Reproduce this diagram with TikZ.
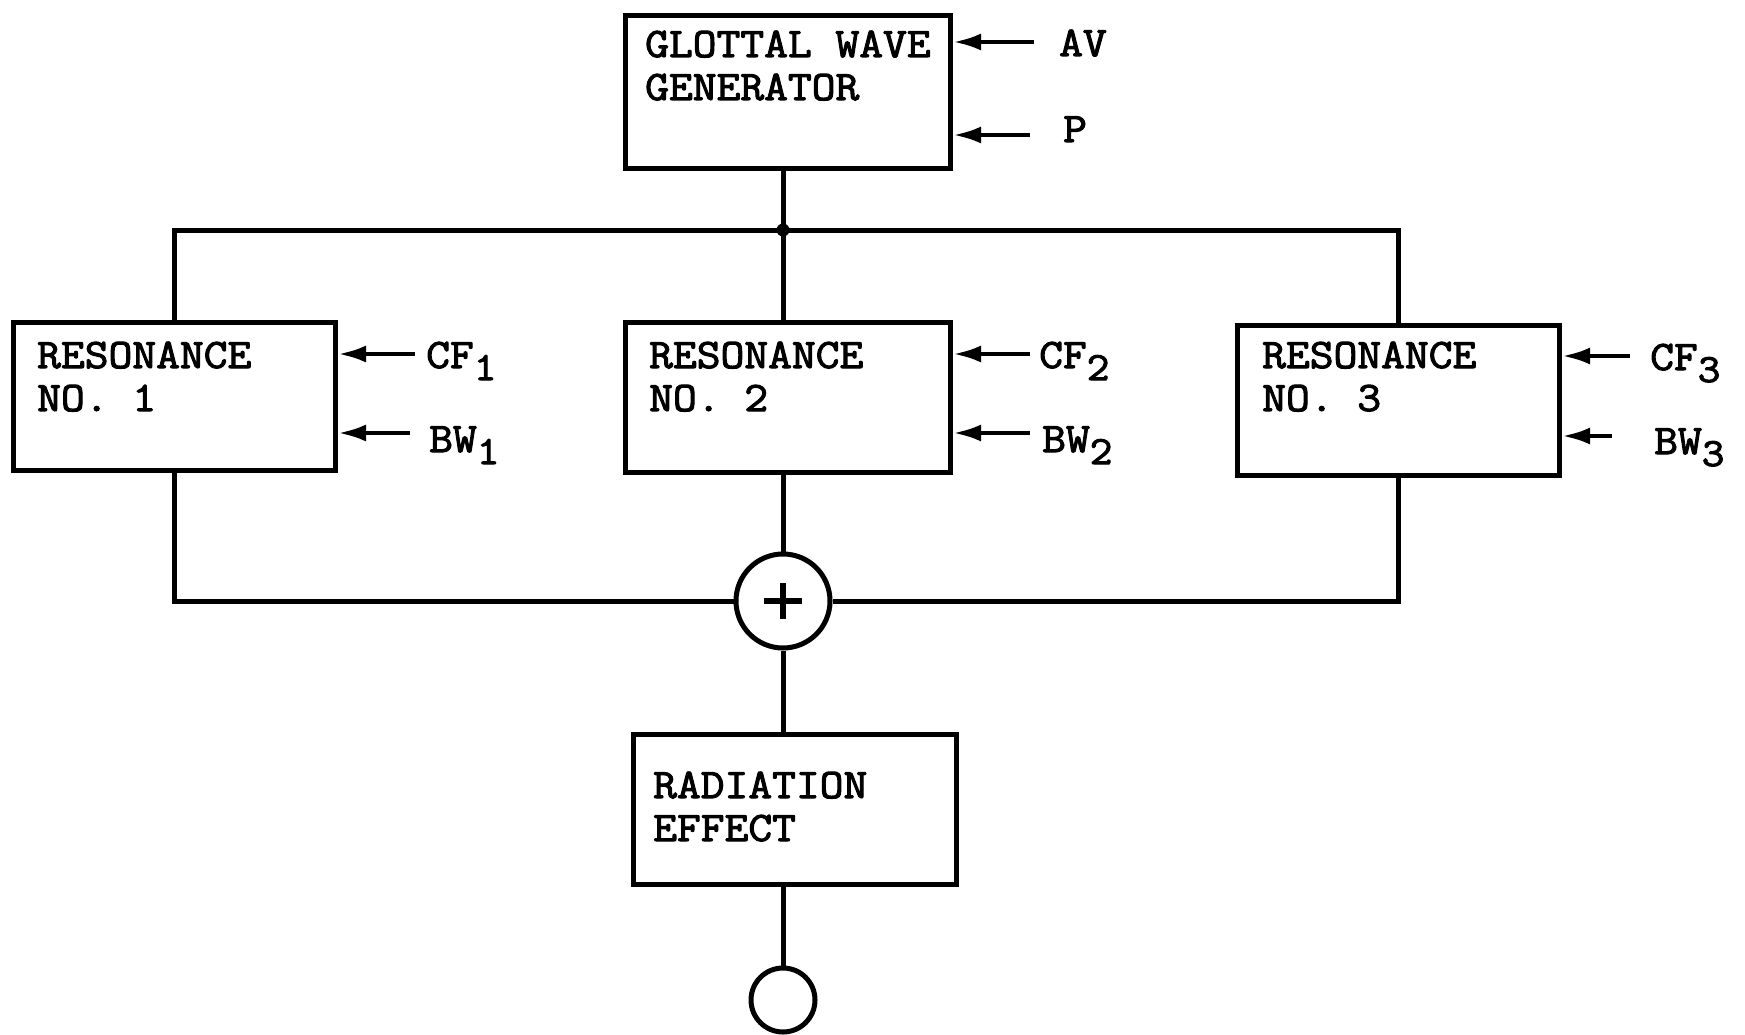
\documentclass[tikz,border=0pt]{standalone}
\usepackage{fontspec}
\newfontfamily\typew{Latin Modern Mono}[FakeStretch=1.1,FakeBold=2.5]
\usetikzlibrary{arrows.meta}
\newcommand\lowsub[1]{\raisebox{-12pt}{\fontsize{40}{40}\selectfont #1}}
\begin{document}
\begin{tikzpicture}[x=1pt,y=-1pt,
  blk/.style={draw, line width=5pt, inner sep=0pt, anchor=north west},
  lbl/.style={font=\typew\fontsize{42}{46}\selectfont, inner sep=0pt, anchor=base west},
  wire/.style={line width=5pt},
  inarrow/.style={line width=4.5pt, -{Latex[length=28pt,width=17pt]}},
  sumc/.style={draw, circle, line width=5pt, inner sep=0pt}]
\useasboundingbox (0,0) rectangle (1745,1035);
% blocks
\node[blk, minimum width=325pt, minimum height=153pt] (glot) at (623,13) {};
\node[blk, minimum width=322pt, minimum height=148pt] (res1) at (11,320) {};
\node[blk, minimum width=325pt, minimum height=150pt] (res2) at (623,320) {};
\node[blk, minimum width=322pt, minimum height=150pt] (res3) at (1235,323) {};
\node[blk, minimum width=323pt, minimum height=150pt] (rad) at (631,732) {};
\node[sumc, minimum size=94pt] (sum) at (783,601) {};
\node[sumc, minimum size=64pt] (out) at (783,1000) {};
% block texts
\node[lbl] (g1) at (645,57) {GLOTTAL WAVE};
\node[lbl] (g2) at (645,100) {GENERATOR};
\node[lbl] (r1a) at (37,368) {RESONANCE};
\node[lbl] (r1b) at (37,411) {NO. 1};
\node[lbl] (r2a) at (649,368) {RESONANCE};
\node[lbl] (r2b) at (649,411) {NO. 2};
\node[lbl] (r3a) at (1262,368) {RESONANCE};
\node[lbl] (r3b) at (1262,411) {NO. 3};
\node[lbl] (ra) at (653,798) {RADIATION};
\node[lbl] (rb) at (653,841) {EFFECT};
% input labels
\node[lbl] (av) at (1059,56) {AV};
\node[lbl] (p) at (1063,142) {P};
\node[lbl] (cf1) at (426,368) {CF\lowsub{1}};
\node[lbl] (bw1) at (429,452) {BW\lowsub{1}};
\node[lbl] (cf2) at (1039,368) {CF\lowsub{2}};
\node[lbl] (bw2) at (1042,452) {BW\lowsub{2}};
\node[lbl] (cf3) at (1650,370) {CF\lowsub{3}};
\node[lbl] (bw3) at (1654,454) {BW\lowsub{3}};
% arrow tails
\coordinate (avt) at (1034,42);
\coordinate (pt) at (1030,135);
\coordinate (cf1t) at (415,354);
\coordinate (bw1t) at (410,433);
\coordinate (cf2t) at (1030,354);
\coordinate (bw2t) at (1030,433);
\coordinate (cf3t) at (1630,356);
\coordinate (bw3t) at (1612,436);
\draw[inarrow] (avt) -- (avt -| glot.east);
\draw[inarrow] (pt) -- (pt -| glot.east);
\draw[inarrow] (cf1t) -- (cf1t -| res1.east);
\draw[inarrow] (bw1t) -- (bw1t -| res1.east);
\draw[inarrow] (cf2t) -- (cf2t -| res2.east);
\draw[inarrow] (bw2t) -- (bw2t -| res2.east);
\draw[inarrow] (cf3t) -- (cf3t -| res3.east);
\draw[inarrow] (bw3t) -- (bw3t -| res3.east);
% distribution bus
\coordinate (jn) at (783,230);
\draw[wire] (jn |- glot.south) -- (jn);
\fill (jn) circle (6.5pt);
\draw[wire] (res1.north) -- (res1.north |- jn) -- (res3.north |- jn) -- (res3.north);
\draw[wire] (jn) -- (jn |- res2.north);
% summing bus
\draw[wire] (res1.south) -- (res1.south |- sum.west) -- (sum.west);
\draw[wire] (res3.south) -- (res3.south |- sum.east) -- (sum.east);
\draw[wire] (jn |- res2.south) -- (sum.north);
\draw[line width=6pt] ([xshift=-19pt]sum.center) -- ([xshift=19pt]sum.center);
\draw[line width=6pt] ([yshift=-18pt]sum.center) -- ([yshift=18pt]sum.center);
\draw[wire] (sum.south) -- (sum.south |- rad.north);
\draw[wire] (out.north |- rad.south) -- (out.north);
\end{tikzpicture}
\end{document}
